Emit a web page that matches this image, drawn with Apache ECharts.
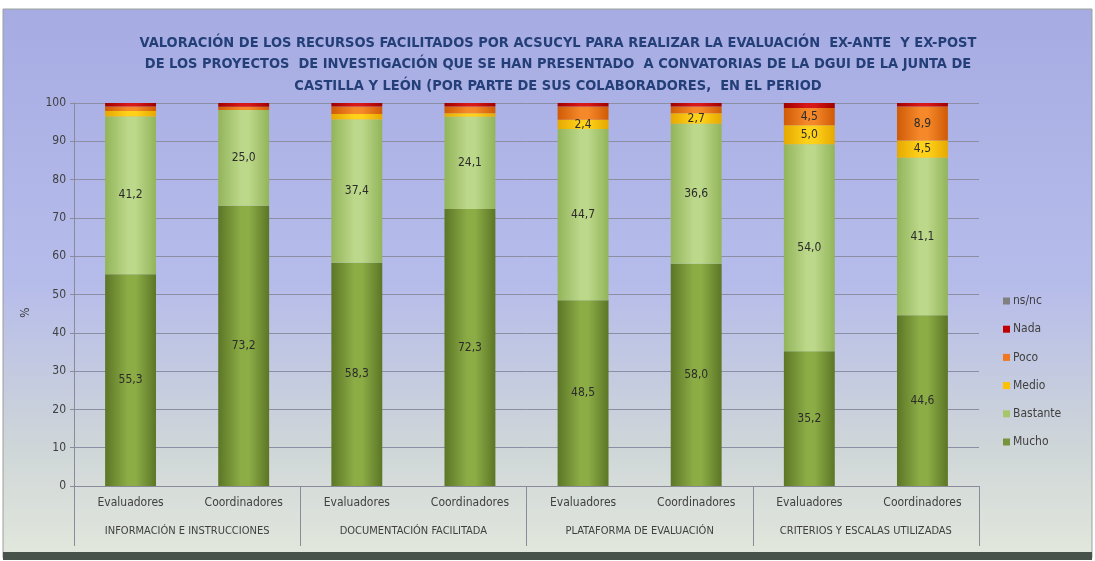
<!DOCTYPE html>
<html>
<head>
<meta charset="utf-8">
<script src="https://cdn.jsdelivr.net/npm/echarts@6/dist/echarts.min.js"></script>
<style>
html,body{margin:0;padding:0;background:#ffffff;}
#chart{width:1095px;height:561px;}
</style>
</head>
<body>
<div id="chart"></div>
<script>
const categories = ['Evaluadores','Coordinadores','Evaluadores','Coordinadores','Evaluadores','Coordinadores','Evaluadores','Coordinadores'];
const groups = ['INFORMACIÓN E INSTRUCCIONES','DOCUMENTACIÓN FACILITADA','PLATAFORMA DE EVALUACIÓN','CRITERIOS Y ESCALAS UTILIZADAS'];
const mucho    = [55.3, 73.2, 58.3, 72.3, 48.5, 58.0, 35.2, 44.6];
const bastante = [41.2, 25.0, 37.4, 24.1, 44.7, 36.6, 54.0, 41.1];
const medio    = [1.4, 0.0, 1.4, 0.9, 2.4, 2.7, 5.0, 4.5];
const poco     = [1.2, 0.8, 2.0, 1.8, 3.5, 1.8, 4.5, 8.9];
const nada     = [0.9, 1.0, 0.9, 0.9, 0.9, 0.9, 1.3, 0.9];
const nsnc     = [0, 0, 0, 0, 0, 0, 0, 0];
const yTicks = [0, 10, 20, 30, 40, 50, 60, 70, 80, 90, 100];

const font = '"DejaVu Sans Condensed", "DejaVu Sans", sans-serif';

function cyl(edge, mid) {
  return {type:'linear', x:0, y:0, x2:1, y2:0, colorStops:[
    {offset:0, color:edge},{offset:0.45, color:mid},{offset:0.6, color:mid},{offset:1, color:edge}]};
}

// labels are shown in the reference only for the larger segments
function mk(name, data, edge, mid, minLabel) {
  return {
    name: name, type: 'bar', stack: 'total', data: data, barWidth: '45%',
    itemStyle: {color: cyl(edge, mid)},
    label: {show: true, position: 'inside', fontFamily: font, fontSize: 12, color: '#2b2b2b',
      formatter: p => p.value >= minLabel ? p.value.toFixed(1).replace('.', ',') : ''},
    emphasis: {disabled: true}
  };
}

const chart = echarts.init(document.getElementById('chart'), null, {renderer:'canvas'});
const series = [
  mk('Mucho', mucho, '#5c7626', '#8cad46', 2),
  mk('Bastante', bastante, '#93b45a', '#bcd88a', 2),
  mk('Medio', medio, '#e6a800', '#ffd21a', 2),
  mk('Poco', poco, '#d05a06', '#f5892a', 4),
  mk('Nada', nada, '#a00000', '#d81818', 4),
  mk('ns/nc', nsnc, '#6f6f6f', '#9a9a9a', 4)
];
const legendColors = {'Mucho':'#77933c','Bastante':'#a6c66a','Medio':'#ffc000','Poco':'#f07820','Nada':'#c00000','ns/nc':'#808080'};

chart.setOption({
  animation: false,
  graphic: [
    {type:'rect', z:-10, silent:true, shape:{x:3, y:9, width:1089, height:549},
     style:{fill:{type:'linear', x:0, y:0, x2:0, y2:1, colorStops:[
       {offset:0, color:'#a6ace2'},{offset:0.5, color:'#b6bcea'},{offset:0.8, color:'#cfd6d8'},{offset:1, color:'#e2e8dc'}]},
       stroke:'#9aa09a', lineWidth:1}},
    {type:'rect', z:-9, silent:true, shape:{x:3, y:552, width:1089, height:8}, style:{fill:'#46524a'}}
  ],
  title: {
    text: 'VALORACIÓN DE LOS RECURSOS FACILITADOS POR ACSUCYL PARA REALIZAR LA EVALUACIÓN  EX-ANTE  Y EX-POST\nDE LOS PROYECTOS  DE INVESTIGACIÓN QUE SE HAN PRESENTADO  A CONVATORIAS DE LA DGUI DE LA JUNTA DE\nCASTILLA Y LEÓN (POR PARTE DE SUS COLABORADORES,  EN EL PERIOD',
    left: 553, top: 27, textAlign: 'center',
    textStyle: {fontFamily: font, fontSize: 14.5, fontWeight: 'bold', color: '#243f78', lineHeight: 21.5}
  },
  legend: {
    orient: 'vertical', left: 998, top: 290, itemGap: 16.2, itemWidth: 7, itemHeight: 7,
    icon: 'rect', selectedMode: false,
    data: ['ns/nc','Nada','Poco','Medio','Bastante','Mucho'].map(n => ({name:n, itemStyle:{color:legendColors[n]}})),
    textStyle: {fontFamily: font, fontSize: 12, color: '#404040', padding:[0,0,0,-2]}
  },
  grid: {left: 74, right: 116, top: 103, bottom: 75},
  xAxis: [
    {type:'category', data: categories, position:'bottom',
     axisLine:{lineStyle:{color:'#8a8a9a'}}, axisTick:{show:false},
     axisLabel:{interval:0, margin:11, fontFamily: font, fontSize: 12, color:'#404040'}},
    {type:'category', data: groups, position:'bottom', offset: 0,
     axisLine:{show:false}, axisTick:{show:true, length:60, lineStyle:{color:'#8a8a9a'}},
     axisLabel:{interval:0, margin:40, fontFamily: font, fontSize: 11, color:'#404040'}}
  ],
  yAxis: {
    type:'value', min: yTicks[0], max: yTicks[yTicks.length-1], interval: 10,
    name: '%', nameLocation: 'middle', nameGap: 42, nameRotate: 90,
    nameTextStyle: {fontFamily: font, fontSize: 12, color:'#404040', padding:[0,36,0,0]},
    axisLine:{show:true, lineStyle:{color:'#8a8a9a'}},
    axisTick:{show:true, length:4, lineStyle:{color:'#8a8a9a'}},
    splitLine:{lineStyle:{color:'#8c8ea4'}},
    axisLabel:{fontFamily: font, fontSize: 12, color:'#404040', margin:8}
  },
  series: series
});
</script>
</body>
</html>
